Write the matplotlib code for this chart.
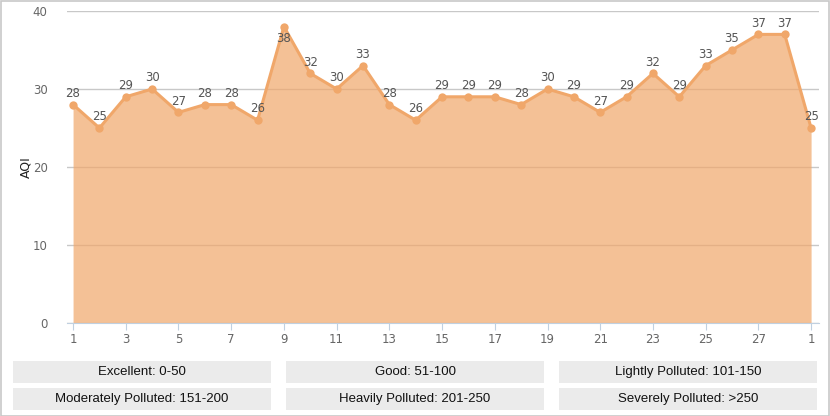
import matplotlib.pyplot as plt
from matplotlib.patches import Rectangle

# daily AQI values, last point is the 1st of next month
days = [1, 2, 3, 4, 5, 6, 7, 8, 9, 10, 11, 12, 13, 14, 15, 16, 17, 18, 19, 20,
        21, 22, 23, 24, 25, 26, 27, 28, 1]
aqi = [28, 25, 29, 30, 27, 28, 28, 26, 38, 32, 30, 33, 28, 26, 29, 29, 29, 28,
       30, 29, 27, 29, 32, 29, 33, 35, 37, 37, 25]
legend_labels = [
    ["Excellent: 0-50", "Good: 51-100", "Lightly Polluted: 101-150"],
    ["Moderately Polluted: 151-200", "Heavily Polluted: 201-250", "Severely Polluted: >250"],
]

W, H = 830, 416
fig = plt.figure(figsize=(W / 100, H / 100), dpi=100)
ax = fig.add_axes([67 / W, 93 / H, (819 - 67) / W, (323 - 11) / H])

x = list(range(len(aqi)))
line_color = "#F0A76A"
ax.fill_between(x, 0, aqi, color=line_color, alpha=0.7, linewidth=0, zorder=2)
ax.plot(x, aqi, color=line_color, linewidth=2.2, marker="o", markersize=6,
        markeredgewidth=0, zorder=3)

for xi, v in zip(x, aqi):
    if v >= 38:
        ax.annotate(str(v), (xi, v), xytext=(0, -4), textcoords="offset points",
                    ha="center", va="top", fontsize=8.5, color="#555555", zorder=4)
    else:
        ax.annotate(str(v), (xi, v), xytext=(0, 3.5), textcoords="offset points",
                    ha="center", va="bottom", fontsize=8.5, color="#555555", zorder=4)

ax.set_xlim(-0.23, 28.3)
ax.set_ylim(0, 40)
ax.set_xticks(x[::2])
ax.set_xticklabels([str(d) for d in days[::2]])
ax.set_yticks([0, 10, 20, 30, 40])

ax.grid(axis="y", color="#C8C8C8", linewidth=1, zorder=1)
ax.set_axisbelow(True)
for side in ["top", "right", "left"]:
    ax.spines[side].set_visible(False)
ax.spines["bottom"].set_color("#C0D0E0")
ax.spines["bottom"].set_zorder(5)
ax.tick_params(axis="x", colors="#C0D0E0", labelcolor="#666666", length=5,
               labelsize=8.5, pad=2)
ax.tick_params(axis="y", length=0, labelcolor="#666666", labelsize=8.5, pad=14)
ax.set_ylabel("AQI", fontsize=9, color="#222222", labelpad=0)

# legend boxes below the chart
box_x = [13, 286, 559]
box_w = 258
box_y = [361, 388]
box_h = 22
for r, row in enumerate(legend_labels):
    for c, label in enumerate(row):
        x0 = box_x[c] / W
        y0 = (H - box_y[r] - box_h) / H
        fig.patches.append(Rectangle((x0, y0), box_w / W, box_h / H,
                                     transform=fig.transFigure,
                                     facecolor="#EBEBEB", edgecolor="none"))
        fig.text(x0 + box_w / W / 2, y0 + box_h / H / 2, label,
                 ha="center", va="center", fontsize=9.5, color="#111111",
                 family="Liberation Sans")

# outer border
fig.patches.append(Rectangle((0.5 / W, 0.5 / H), (W - 1.5) / W, (H - 1.5) / H,
                             transform=fig.transFigure, facecolor="none",
                             edgecolor="#C8C8C8", linewidth=1.2))

fig.savefig("out.png", dpi=100)
